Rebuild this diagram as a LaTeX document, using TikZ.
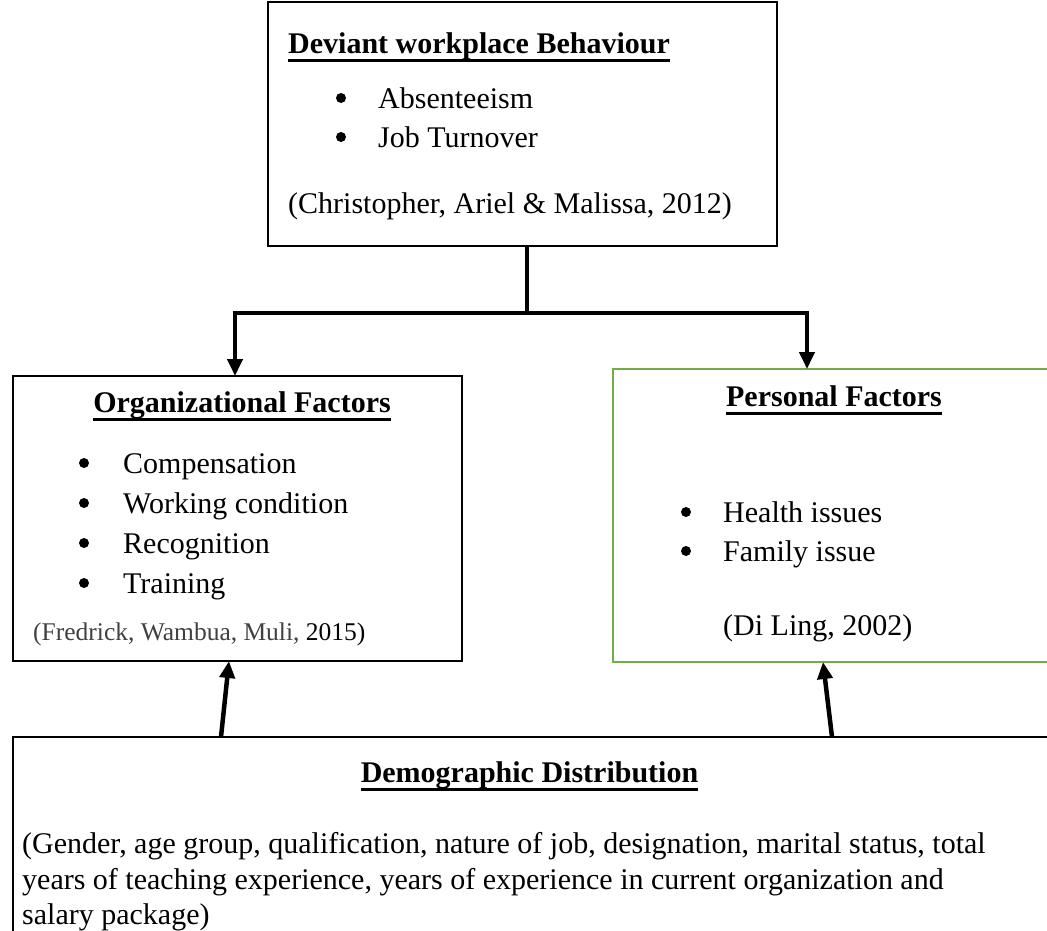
\documentclass[tikz,border=0pt]{standalone}
\usepackage{fontspec}
\setmainfont{Liberation Serif}
\usetikzlibrary{arrows.meta}

\definecolor{boxgreen}{RGB}{112,173,71}
\definecolor{citegray}{RGB}{64,64,64}

\newsavebox\headbox
\newcommand\uhead[1]{\sbox\headbox{\bfseries #1}\rlap{\rule[-8.5pt]{\wd\headbox}{3pt}}\usebox\headbox}

\tikzset{
  box/.style={rectangle, draw, line width=2pt, inner sep=0pt, outer sep=0pt},
  txt/.style={anchor=base west, inner sep=0pt, font=\fontsize{30}{40}\selectfont},
  head/.style={anchor=base, inner sep=0pt, font=\fontsize{30}{40}\selectfont},
  arr/.style={-{Triangle[length=17pt,width=15pt]}, line width=4pt},
}

\begin{document}
\begin{tikzpicture}[x=1pt, y=-1pt]
  \useasboundingbox (0,0) rectangle (1047,930);
  \clip (0,0) rectangle (1047,930);

  % boxes
  \node(dev)  at (522.5,124)   [box, minimum width=509pt, minimum height=244pt] {};
  \node(org)  at (237.5,518.5) [box, minimum width=449pt, minimum height=285pt] {};
  \node(pers) at (856.5,515.5) [box, draw=boxgreen, minimum width=487pt, minimum height=293pt] {};
  \node(demo) at (556.5,868.5) [box, minimum width=1087pt, minimum height=263pt] {};

  % deviant behaviour
  \node(devhead) at (288,53) [txt] {\uhead{Deviant workplace Behaviour}};
  \foreach \t [count=\i] in {Absenteeism, Job Turnover} {
    \node(devitem\i) at (378,69+39*\i) [txt] {\t};
    \fill (341,59+39*\i) circle (5pt);
  }
  \node(devcite) at (288,213) [txt] {(Christopher, Ariel \& Malissa, 2012)};

  % organizational factors
  \node(orghead) at (242,412) [head] {\uhead{Organizational Factors}};
  \foreach \t [count=\i] in {Compensation, Working condition, Recognition, Training} {
    \node(orgitem\i) at (123,433+40*\i) [txt] {\t};
    \fill (84,423+40*\i) circle (5pt);
  }
  \node(orgcite) at (33,640) [txt, font=\fontsize{25.5}{30}\selectfont] {\textcolor{citegray}{(Fredrick, Wambua, Muli,} 2015)};

  % personal factors
  \node(pershead) at (834,406) [head] {\uhead{Personal Factors}};
  \foreach \t [count=\i] in {Health issues, Family issue} {
    \node(persitem\i) at (723,483+39*\i) [txt] {\t};
    \fill (686,473+39*\i) circle (5pt);
  }
  \node(perscite) at (723,635) [txt] {(Di Ling, 2002)};

  % demographic distribution
  \node(demohead) at (529.5,782) [head] {\uhead{Demographic Distribution}};
  \foreach \t [count=\i] in {{(Gender, age group, qualification, nature of job, designation, marital status, total},
                             {years of teaching experience, years of experience in current organization and},
                             {salary package)}}
    \node(demoline\i) at (22,818+35.5*\i) [txt] {\t};

  % connectors
  \coordinate (fork) at (527,313);
  \draw[line width=4pt] (dev.south -| fork) -- (fork);
  \draw[arr] (fork) -| ([xshift=-2.5pt]org.north);
  \draw[arr] (fork) -| ([xshift=194pt]pers.north west);
  \draw[arr, line width=4.5pt] ([xshift=208pt]demo.north west) -- ([xshift=-8.5pt]org.south);
  \draw[arr, line width=4.5pt] ([xshift=819pt]demo.north west) -- ([xshift=210pt]pers.south west);
\end{tikzpicture}
\end{document}
